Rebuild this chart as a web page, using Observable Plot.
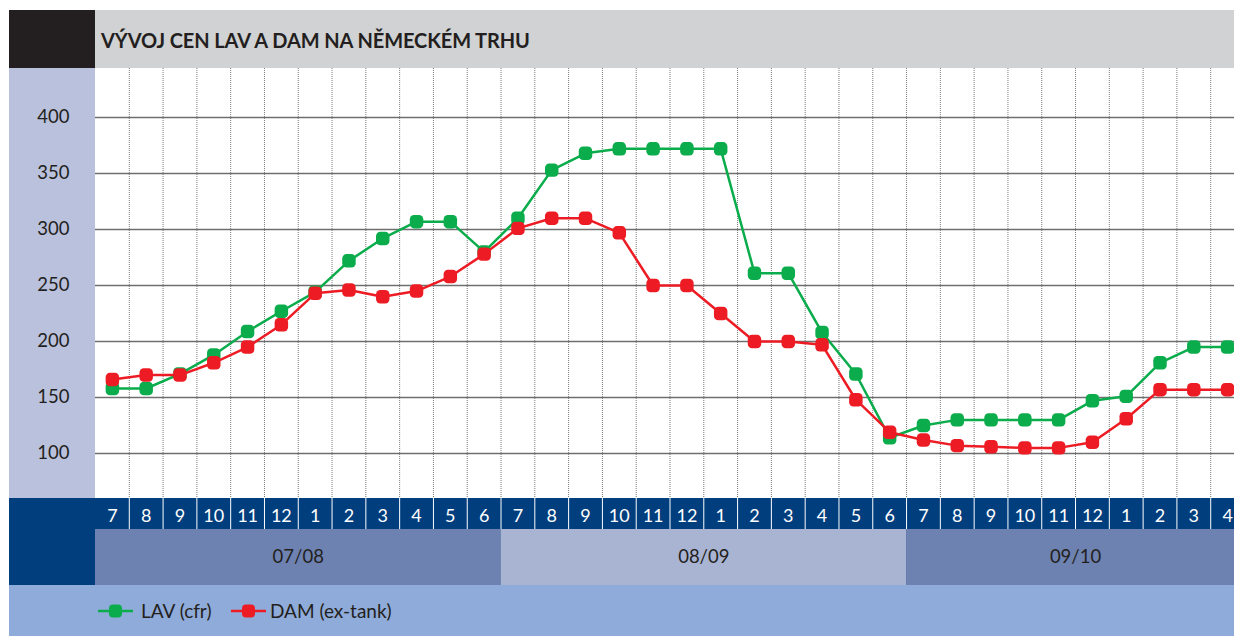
<!DOCTYPE html>
<html><head><meta charset="utf-8">
<script src="https://cdn.jsdelivr.net/npm/d3@7"></script>
<script src="https://cdn.jsdelivr.net/npm/@observablehq/plot@0.6"></script>
<style>
body{margin:0;background:#fff;font-family:Lato,"Open Sans",sans-serif;color:#231f20;}
#wrap{position:relative;width:1234px;height:636px;overflow:hidden;background:#fff;}
.abs{position:absolute;}
.plotbox{position:absolute;width:1244px;}
.plotbox svg{max-width:none !important;display:block;}
#title{display:flex;align-items:center;box-sizing:border-box;padding-left:6px;font-weight:700;font-size:20px;letter-spacing:-0.1px;padding-top:2px;}
.lg{position:absolute;top:585px;height:51px;display:flex;align-items:center;font-size:19px;color:#231f20;}
</style></head><body><div id="wrap">
<div class="abs" style="left:9px;top:10px;width:86px;height:58px;background:#231f20"></div>
<div class="abs" id="title" style="left:95px;top:10px;width:1139px;height:58px;background:#d1d2d4"></div>
<div class="abs" style="left:9px;top:68px;width:86px;height:430px;background:#b9c1dd"></div>
<div class="plotbox" id="main" style="left:0;top:68px"></div>
<div class="abs" style="left:9px;top:498px;width:1225px;height:87px;background:#013e7d"></div>
<div class="plotbox" id="monthsRow" style="left:0;top:498px"></div>
<div class="plotbox" id="seasonRow" style="left:0;top:529px"></div>
<div class="abs" style="left:9px;top:585px;width:1225px;height:51px;background:#8fabd9"></div>
<div id="legend"></div>
</div>
<script>
const titleText = "VÝVOJ CEN LAV A DAM NA NĚMECKÉM TRHU";
const months = ["7","8","9","10","11","12","1","2","3","4","5","6",
                "7","8","9","10","11","12","1","2","3","4","5","6",
                "7","8","9","10","11","12","1","2","3","4"];
const seasons = ["07/08","08/09","09/10"];
const yTicks = [100,150,200,250,300,350,400];
const seriesNames = ["LAV (cfr)","DAM (ex-tank)"];
const seriesColors = ["#0aac4b","#ed1c24"];
const lav = [158,158,171,188,209,227,244,272,292,307,307,280,
             310,353,368,372,372,372,372,261,261,208,171,114,
             125,130,130,130,130,147,151,181,195,195];
const dam = [166,170,170,181,195,215,243,246,240,245,258,278,
             301,310,310,297,250,250,225,200,200,197,148,119,
             112,107,106,105,105,110,131,157,157,157];

document.getElementById("title").textContent = titleText;

const n = months.length;
const rows = months.map((m,i)=>({i, m, lav: lav[i], dam: dam[i]}));
const font = "Lato, 'Open Sans', sans-serif";

const roundSquare = {draw(ctx, size){
  const s=Math.sqrt(size), h=s/2, r=s*0.32;
  ctx.moveTo(-h+r,-h); ctx.lineTo(h-r,-h); ctx.arcTo(h,-h,h,-h+r,r);
  ctx.lineTo(h,h-r); ctx.arcTo(h,h,h-r,h,r);
  ctx.lineTo(-h+r,h); ctx.arcTo(-h,h,-h,h-r,r);
  ctx.lineTo(-h,-h+r); ctx.arcTo(-h,-h,-h+r,-h,r); ctx.closePath();
}};
const xc = d => d.i + 0.5;

const main = Plot.plot({
  width:1244, height:430, marginLeft:95, marginRight:0, marginTop:0, marginBottom:0,
  style:{background:"transparent", overflow:"visible", fontFamily:font, fontSize:"18px", color:"#231f20"},
  x:{domain:[0,n], axis:null},
  y:{domain:[59.8,443.75], axis:null},
  marks:[
    Plot.ruleX(d3.range(1,n), {stroke:"#7a7a7a", strokeWidth:1, strokeDasharray:"1,1"}),
    Plot.ruleY(yTicks, {stroke:"#6f6f6f", strokeWidth:1.6}),
    Plot.axisY(yTicks, {tickSize:0, tickPadding:26, fontSize:18.5, fill:"#231f20", label:null}),
    Plot.line(rows, {x:xc, y:"lav", stroke:seriesColors[0], strokeWidth:2.5}),
    Plot.dot(rows, {x:xc, y:"lav", symbol:roundSquare, r:7.6, fill:seriesColors[0], stroke:null}),
    Plot.line(rows, {x:xc, y:"dam", stroke:seriesColors[1], strokeWidth:2.5}),
    Plot.dot(rows, {x:xc, y:"dam", symbol:roundSquare, r:7.6, fill:seriesColors[1], stroke:null})
  ]
});
document.getElementById("main").appendChild(main);

const monthPlot = Plot.plot({
  width:1244, height:31, marginLeft:95, marginRight:0, marginTop:0, marginBottom:0,
  style:{background:"transparent", overflow:"visible", fontFamily:font},
  x:{domain:[0,n], axis:null},
  marks:[
    Plot.ruleX(d3.range(1,n), {stroke:"#ffffff", strokeWidth:1}),
    Plot.text(rows, {x:xc, text:"m", fill:"#ffffff", fontSize:18, dy:2})
  ]
});
document.getElementById("monthsRow").appendChild(monthPlot);

// season spans derived from the month sequence (a new season starts at month 7)
let s = -1;
const seasonIdx = months.map(m => { if (m === "7") s++; return s; });
const spans = seasons.map((name,k) => {
  const idx = d3.range(n).filter(i => seasonIdx[i] === k);
  return {name, k, x1: idx[0], x2: idx[idx.length-1] + 1};
});
const seasonPlot = Plot.plot({
  width:1244, height:56, marginLeft:95, marginRight:0, marginTop:0, marginBottom:0,
  style:{background:"transparent", overflow:"visible", fontFamily:font},
  x:{domain:[0,n], axis:null},
  marks:[
    Plot.rect(spans, {x1:"x1", x2:"x2", fill: d => d.k % 2 ? "#a9b4d3" : "#6d82b0"}),
    Plot.text(spans, {x: d => (d.x1 + d.x2)/2, text:"name", fill:"#231f20", fontSize:18.5})
  ]
});
document.getElementById("seasonRow").appendChild(seasonPlot);

// legend
const lgPos = [{sw:98, tx:141},{sw:231, tx:270}];
const legend = document.getElementById("legend");
seriesNames.forEach((name,k) => {
  const c = seriesColors[k];
  const sw = document.createElement("div");
  sw.className = "lg"; sw.style.left = lgPos[k].sw + "px";
  sw.innerHTML = `<svg width="35" height="14"><line x1="0" x2="35" y1="7" y2="7" stroke="${c}" stroke-width="2.5"/><rect x="11" y="0.5" width="13" height="13" rx="4" fill="${c}"/></svg>`;
  legend.appendChild(sw);
  const t = document.createElement("div");
  t.className = "lg"; t.style.left = lgPos[k].tx + "px"; t.textContent = name;
  legend.appendChild(t);
});
</script>
</body></html>
